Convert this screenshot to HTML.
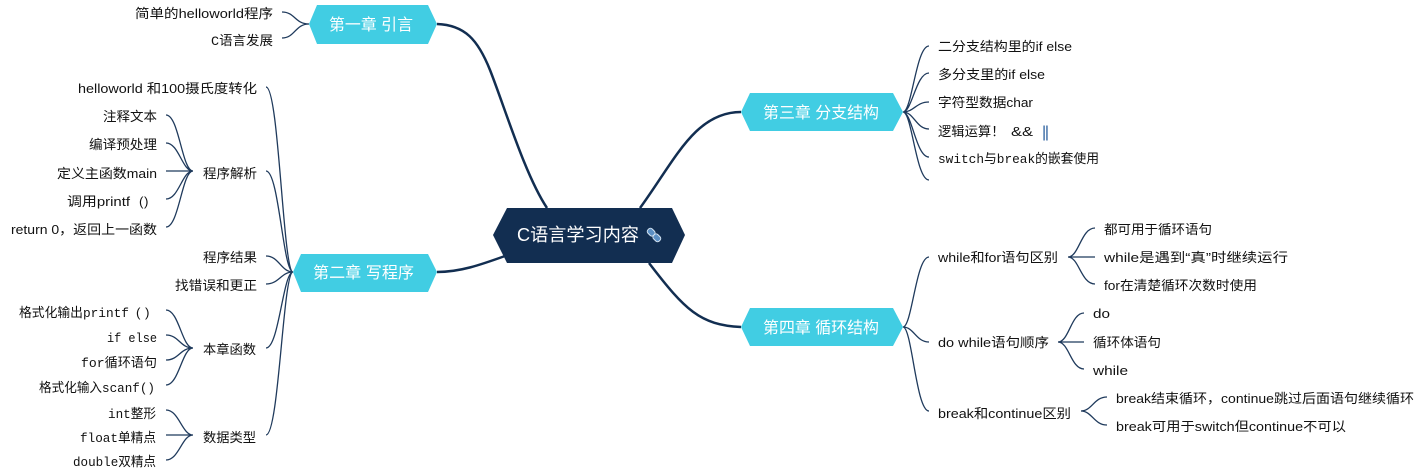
<!DOCTYPE html>
<html><head><meta charset="utf-8"><style>
html,body{margin:0;padding:0;background:#fff}
svg{display:block}
text{font-family:"Liberation Sans","Noto Sans CJK SC",sans-serif;font-size:13.3px;fill:#111}
.m{font-family:"Liberation Mono","Noto Sans CJK SC",monospace}
.c{font-size:16px;fill:#fff}
.r{font-size:18px;fill:#fff}
.b{fill:none;stroke:#1f3a5c;stroke-width:1.3}
.t{fill:none;stroke:#122e51;stroke-width:2.5}
</style></head><body>
<svg width="1423" height="471" viewBox="0 0 1423 471" xmlns="http://www.w3.org/2000/svg">
<path class="t" d="M437 24C465 25 478 40 490 70C505 108 525 175 547 208"/>
<path class="t" d="M437 272C460 272 480 265 505 256"/>
<path class="t" d="M741 112C695 112 675 160 640 208"/>
<path class="t" d="M741 327C700 325 685 310 649 263"/>
<polygon points="493,235 507,208 672,208 685,235 672,263 507,263" fill="#122e51"/>
<polygon points="309,24 317,5 428,5 437,24 428,44 317,44" fill="#41cde3"/>
<polygon points="293,272 301,254 428,254 437,272 428,292 301,292" fill="#41cde3"/>
<polygon points="741,112 750,93 893,93 903,112 893,131 750,131" fill="#41cde3"/>
<polygon points="741,327 750,308 893,308 903,327 893,346 750,346" fill="#41cde3"/>
<g class="b">
<path class="b" d="M282 12C295 12 295 24 309 24M282 38C295 38 295 24 309 24"/>
<path class="b" d="M266 87C279 87 283 272 293 272M266 171C279 171 283 272 293 272M266 256C279 256 281 272 293 272M266 284C279 284 281 272 293 272M266 348C279 348 283 272 293 272M266 435C279 435 283 272 293 272"/>
<path class="b" d="M166 115C179 115 182 171 193 171M166 143C179 143 182 171 193 171M166 171H193M166 199C179 199 182 171 193 171M166 227C179 227 182 171 193 171"/>
<path class="b" d="M166 310C179 310 182 348 193 348M166 335C179 335 180 348 193 348M166 360C179 360 180 348 193 348M166 385C179 385 182 348 193 348"/>
<path class="b" d="M166 410C179 410 182 435 193 435M166 435H193M166 460C179 460 182 435 193 435"/>
<path class="b" d="M929 46C916 46 912 112 903 112M929 73C916 73 912 112 903 112M929 102C916 102 914 112 903 112M929 129C916 129 914 112 903 112M929 157C916 157 912 112 903 112M929 180C916 180 912 112 903 112"/>
<path class="b" d="M929 257C916 257 912 327 903 327M929 342C916 342 914 327 903 327M929 411C916 411 912 327 903 327"/>
<path class="b" d="M1095 228C1081 228 1079 257 1068 257M1095 257H1068M1095 284C1081 284 1079 257 1068 257"/>
<path class="b" d="M1084 313C1071 313 1069 342 1058 342M1084 342H1058M1084 369C1071 369 1069 342 1058 342"/>
<path class="b" d="M1107 397C1094 397 1092 411 1081 411M1107 425C1094 425 1092 411 1081 411"/>
</g>
<text class="r" x="517" y="241" textLength="122" lengthAdjust="spacingAndGlyphs">C语言学习内容</text>
<g transform="rotate(45 654 235)"><rect x="646" y="232" width="8" height="6" rx="2.5" fill="#5b8fc4" stroke="#d5e4f2"/><rect x="654" y="232" width="8" height="6" rx="2.5" fill="#5b8fc4" stroke="#d5e4f2"/></g>
<text class="c" x="329" y="30" textLength="84" lengthAdjust="spacingAndGlyphs">第一章 引言</text>
<text class="c" x="313" y="278" textLength="101" lengthAdjust="spacingAndGlyphs">第二章 写程序</text>
<text class="c" x="763" y="118" textLength="116" lengthAdjust="spacingAndGlyphs">第三章 分支结构</text>
<text class="c" x="763" y="333" textLength="116" lengthAdjust="spacingAndGlyphs">第四章 循环结构</text>
<text x="135" y="18" textLength="138" lengthAdjust="spacingAndGlyphs">简单的helloworld程序</text>
<text x="211" y="45" textLength="62" lengthAdjust="spacingAndGlyphs"><tspan class="m">C</tspan>语言发展</text>
<text x="78" y="93" textLength="179" lengthAdjust="spacingAndGlyphs">helloworld 和100摄氏度转化</text>
<text x="103" y="121" textLength="54" lengthAdjust="spacingAndGlyphs">注释文本</text>
<text x="89" y="149" textLength="68" lengthAdjust="spacingAndGlyphs">编译预处理</text>
<text x="57" y="178" textLength="100" lengthAdjust="spacingAndGlyphs">定义主函数main</text>
<text x="67" y="206" textLength="63" lengthAdjust="spacingAndGlyphs">调用printf</text>
<text x="139" y="206">(</text>
<text x="144" y="206">)</text>
<text x="11" y="234" textLength="146" lengthAdjust="spacingAndGlyphs">return 0，返回上一函数</text>
<text x="203" y="178" textLength="54" lengthAdjust="spacingAndGlyphs">程序解析</text>
<text x="203" y="262" textLength="54" lengthAdjust="spacingAndGlyphs">程序结果</text>
<text x="175" y="290" textLength="82" lengthAdjust="spacingAndGlyphs">找错误和更正</text>
<text x="19" y="317" textLength="110" lengthAdjust="spacingAndGlyphs">格式化输出<tspan class="m">printf</tspan></text>
<text x="136" y="317">(</text>
<text x="145" y="317">)</text>
<text class="m" x="107" y="342" textLength="50" lengthAdjust="spacingAndGlyphs">if else</text>
<text x="81" y="367" textLength="76" lengthAdjust="spacingAndGlyphs"><tspan class="m">for</tspan>循环语句</text>
<text x="39" y="392" textLength="116" lengthAdjust="spacingAndGlyphs">格式化输入<tspan class="m">scanf()</tspan></text>
<text x="108" y="418" textLength="48" lengthAdjust="spacingAndGlyphs"><tspan class="m">int</tspan>整形</text>
<text x="80" y="442" textLength="76" lengthAdjust="spacingAndGlyphs"><tspan class="m">float</tspan>单精点</text>
<text x="73" y="466" textLength="83" lengthAdjust="spacingAndGlyphs"><tspan class="m">double</tspan>双精点</text>
<text x="203" y="354" textLength="53" lengthAdjust="spacingAndGlyphs">本章函数</text>
<text x="203" y="442" textLength="53" lengthAdjust="spacingAndGlyphs">数据类型</text>
<text x="938" y="51" textLength="134" lengthAdjust="spacingAndGlyphs">二分支结构里的if else</text>
<text x="938" y="79" textLength="107" lengthAdjust="spacingAndGlyphs">多分支里的if else</text>
<text x="938" y="107" textLength="95" lengthAdjust="spacingAndGlyphs">字符型数据char</text>
<text x="938" y="136" textLength="66.5" lengthAdjust="spacingAndGlyphs">逻辑运算！</text>
<text x="1011" y="136" textLength="22" lengthAdjust="spacingAndGlyphs">&amp;&amp;</text>
<text x="1042" y="137" style="font-size:16px;fill:#2a5f9e" textLength="7" lengthAdjust="spacing">||</text>
<text x="938" y="163" textLength="161" lengthAdjust="spacingAndGlyphs"><tspan class="m">switch</tspan>与<tspan class="m">break</tspan>的嵌套使用</text>
<text x="938" y="262" textLength="120" lengthAdjust="spacingAndGlyphs">while和for语句区别</text>
<text x="938" y="347" textLength="111" lengthAdjust="spacingAndGlyphs">do while语句顺序</text>
<text x="938" y="418" textLength="133" lengthAdjust="spacingAndGlyphs">break和continue区别</text>
<text x="1104" y="234" textLength="108" lengthAdjust="spacingAndGlyphs">都可用于循环语句</text>
<text x="1104" y="262" textLength="184" lengthAdjust="spacingAndGlyphs">while是遇到“真”时继续运行</text>
<text x="1104" y="290" textLength="153" lengthAdjust="spacingAndGlyphs">for在清楚循环次数时使用</text>
<text x="1093" y="318" textLength="17" lengthAdjust="spacingAndGlyphs">do</text>
<text x="1093" y="347" textLength="68" lengthAdjust="spacingAndGlyphs">循环体语句</text>
<text x="1093" y="375" textLength="35" lengthAdjust="spacingAndGlyphs">while</text>
<text x="1116" y="403" textLength="298" lengthAdjust="spacingAndGlyphs">break结束循环，continue跳过后面语句继续循环</text>
<text x="1116" y="431" textLength="230" lengthAdjust="spacingAndGlyphs">break可用于switch但continue不可以</text>
</svg>
</body></html>
